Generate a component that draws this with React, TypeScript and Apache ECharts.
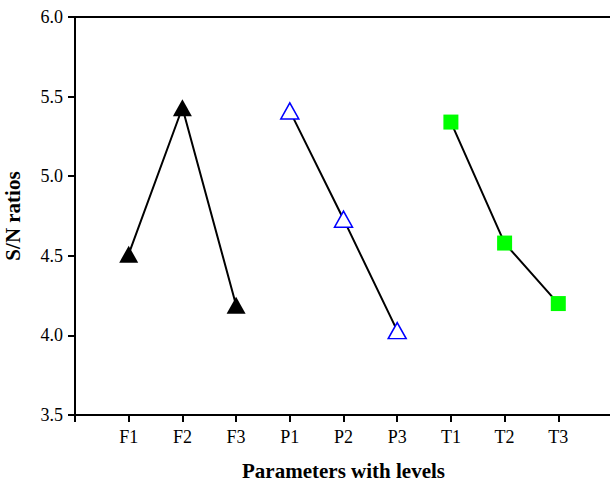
import React, { useEffect, useRef } from "react";
import * as echarts from "echarts";

const categories = ["F1", "F2", "F3", "P1", "P2", "P3", "T1", "T2", "T3"];
const fValues = [4.51, 5.43, 4.19];
const pValues = [5.41, 4.73, 4.03];
const tValues = [5.34, 4.58, 4.2];
const yTicks = { min: 3.5, max: 6.0, interval: 0.5 };

const FONT = "'Liberation Serif', 'Times New Roman', serif";

export default function App() {
  const ref = useRef<HTMLDivElement>(null);
  useEffect(() => {
    if (!ref.current) return;
    const chart = echarts.init(ref.current, undefined, { renderer: "svg" });
    const toPts = (vals: number[], offset: number) =>
      vals.map((v, i) => [offset + i + 1, v]);
    const axisLine = { show: true, lineStyle: { color: "#000", width: 2 } };
    chart.setOption({
      animation: false,
      backgroundColor: "#fff",
      grid: {
        left: 75,
        top: 17,
        width: 537,
        height: 398,
        containLabel: false,
        outerBoundsMode: "none",
      },
      xAxis: [
        {
          type: "value",
          min: 0,
          max: 10,
          interval: 1,
          position: "bottom",
          name: "Parameters with levels",
          nameLocation: "middle",
          nameGap: 45,
          nameTextStyle: { fontFamily: FONT, fontWeight: "bold", fontSize: 21, color: "#000" },
          axisLine,
          axisTick: { show: true, length: 7, lineStyle: { color: "#000", width: 2 } },
          splitLine: { show: false },
          axisLabel: {
            fontFamily: FONT,
            fontSize: 18,
            color: "#000",
            margin: 13,
            formatter: (v: number) => categories[v - 1] ?? "",
          },
        },
        {
          type: "value",
          min: 0,
          max: 10,
          position: "top",
          axisLine,
          axisTick: { show: false },
          axisLabel: { show: false },
          splitLine: { show: false },
        },
      ],
      yAxis: {
        type: "value",
        min: yTicks.min,
        max: yTicks.max,
        interval: yTicks.interval,
        name: "S/N ratios",
        nameLocation: "middle",
        nameGap: 52,
        nameTextStyle: { fontFamily: FONT, fontWeight: "bold", fontSize: 21, color: "#000" },
        axisLine,
        axisTick: { show: true, length: 7, lineStyle: { color: "#000", width: 2 } },
        splitLine: { show: false },
        axisLabel: {
          fontFamily: FONT,
          fontSize: 18,
          color: "#000",
          margin: 12,
          formatter: (v: number) => v.toFixed(1),
        },
      },
      series: [
        {
          type: "line",
          data: toPts(fValues, 0),
          symbol: "triangle",
          symbolSize: [19, 17],
          lineStyle: { color: "#000", width: 2 },
          itemStyle: { color: "#000", borderColor: "#000", borderWidth: 0 },
        },
        {
          type: "line",
          data: toPts(pValues, 3),
          symbol: "triangle",
          symbolSize: [18, 16],
          lineStyle: { color: "#000", width: 2 },
          itemStyle: { color: "#fff", borderColor: "#0000ff", borderWidth: 1.5 },
          z: 3,
        },
        {
          type: "line",
          data: toPts(tValues, 6),
          symbol: "rect",
          symbolSize: 15,
          lineStyle: { color: "#000", width: 2 },
          itemStyle: { color: "#00ff00", borderWidth: 0 },
        },
      ],
    });
    return () => chart.dispose();
  }, []);
  return <div ref={ref} style={{ width: 610, height: 484, position: "absolute", left: 0, top: 0 }} />;
}
